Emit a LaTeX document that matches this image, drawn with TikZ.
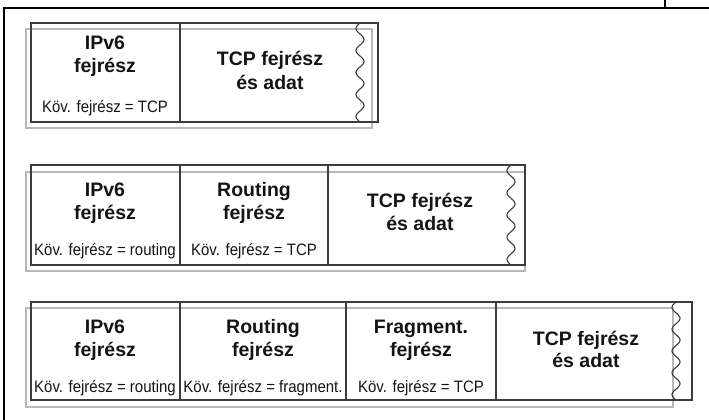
\documentclass[tikz,border=0pt]{standalone}
\usepackage{fontspec}
\setmainfont{Liberation Sans}
\usepackage{graphicx}

\definecolor{boxline}{HTML}{3C3C3C}
\definecolor{shadowline}{HTML}{B8B8B8}
\definecolor{ink}{HTML}{141414}

\tikzset{
  frame/.style={line width=1.2pt, black},
  shadowbox/.style={line width=1.3pt, shadowline},
  packetbox/.style={line width=1.3pt, boxline},
  divider/.style={line width=1.2pt, boxline},
  cut/.style={line width=1.1pt, boxline},
  title/.style={anchor=base, inner sep=0pt, text=ink,
    font=\fontsize{19.5}{19.5}\selectfont\bfseries},
  note/.style={anchor=base, inner sep=0pt, text=ink,
    font=\fontsize{15}{15}\selectfont}
}

% vertically stretched note text
\newcommand\notetext[1]{\scalebox{1}[1.1]{#1}}

\begin{document}
\begin{tikzpicture}[x=1pt, y=-1pt]
  \useasboundingbox (0,0) rectangle (709,420);

  % page frame
  \draw[frame] (4,420) -- (4,8) -- (709,8);
  \draw[frame] (665,0) -- (665,8);

  % ---------- packet 1: IPv6 + TCP ----------
  \draw[shadowbox] (26,29) rectangle (372,128);
  \draw[packetbox] (31,23) rectangle (378,122);
  \draw[divider] (180,23) -- (180,122);
  \draw[cut] plot[domain=0:1, samples=120, smooth]
    ({360-4*sin(4.5*360*\x)}, {23+99*\x});

  \node[title] (a1) at (105,49) {IPv6};
  \node[title] (a2) at (105,73) {fejrész};
  \node[note]  (a3) at (105,112) {\notetext{Köv. fejrész = TCP}};
  \node[title] (a4) at (270,66) {TCP fejrész};
  \node[title] (a5) at (270,89) {és adat};

  % ---------- packet 2: IPv6 + Routing + TCP ----------
  \draw[shadowbox] (26,172) rectangle (525,271);
  \draw[packetbox] (31,165) rectangle (525,265);
  \draw[divider] (180,165) -- (180,265);
  \draw[divider] (328,165) -- (328,265);
  \draw[cut] plot[domain=0:1, samples=120, smooth]
    ({511-4*sin(4.5*360*\x)}, {165+100*\x});

  \node[title] (b1) at (105,196) {IPv6};
  \node[title] (b2) at (105,219) {fejrész};
  \node[note]  (b3) at (105,255) {\notetext{Köv. fejrész = routing}};
  \node[title] (b4) at (254,196) {Routing};
  \node[title] (b5) at (254,219) {fejrész};
  \node[note]  (b6) at (254,255) {\notetext{Köv. fejrész = TCP}};
  \node[title] (b7) at (420,207) {TCP fejrész};
  \node[title] (b8) at (420,230) {és adat};

  % ---------- packet 3: IPv6 + Routing + Fragment + TCP ----------
  \draw[shadowbox] (26,308) rectangle (673,407);
  \draw[packetbox] (31,302) rectangle (692,400);
  \draw[divider] (180,302) -- (180,400);
  \draw[divider] (346,302) -- (346,400);
  \draw[divider] (496,302) -- (496,400);
  \draw[cut] plot[domain=0:1, samples=120, smooth]
    ({676-4*sin(4.5*360*\x)}, {302+98*\x});

  \node[title] (c1) at (105,333) {IPv6};
  \node[title] (c2) at (105,356) {fejrész};
  \node[note]  (c3) at (105,392) {\notetext{Köv. fejrész = routing}};
  \node[title] (c4) at (263,333) {Routing};
  \node[title] (c5) at (263,356) {fejrész};
  \node[note]  (c6) at (263,392) {\notetext{Köv. fejrész = fragment.}};
  \node[title] (c7) at (421,333) {Fragment.};
  \node[title] (c8) at (421,356) {fejrész};
  \node[note]  (c9) at (421,392) {\notetext{Köv. fejrész = TCP}};
  \node[title] (c10) at (586,345) {TCP fejrész};
  \node[title] (c11) at (586,367) {és adat};
\end{tikzpicture}
\end{document}
